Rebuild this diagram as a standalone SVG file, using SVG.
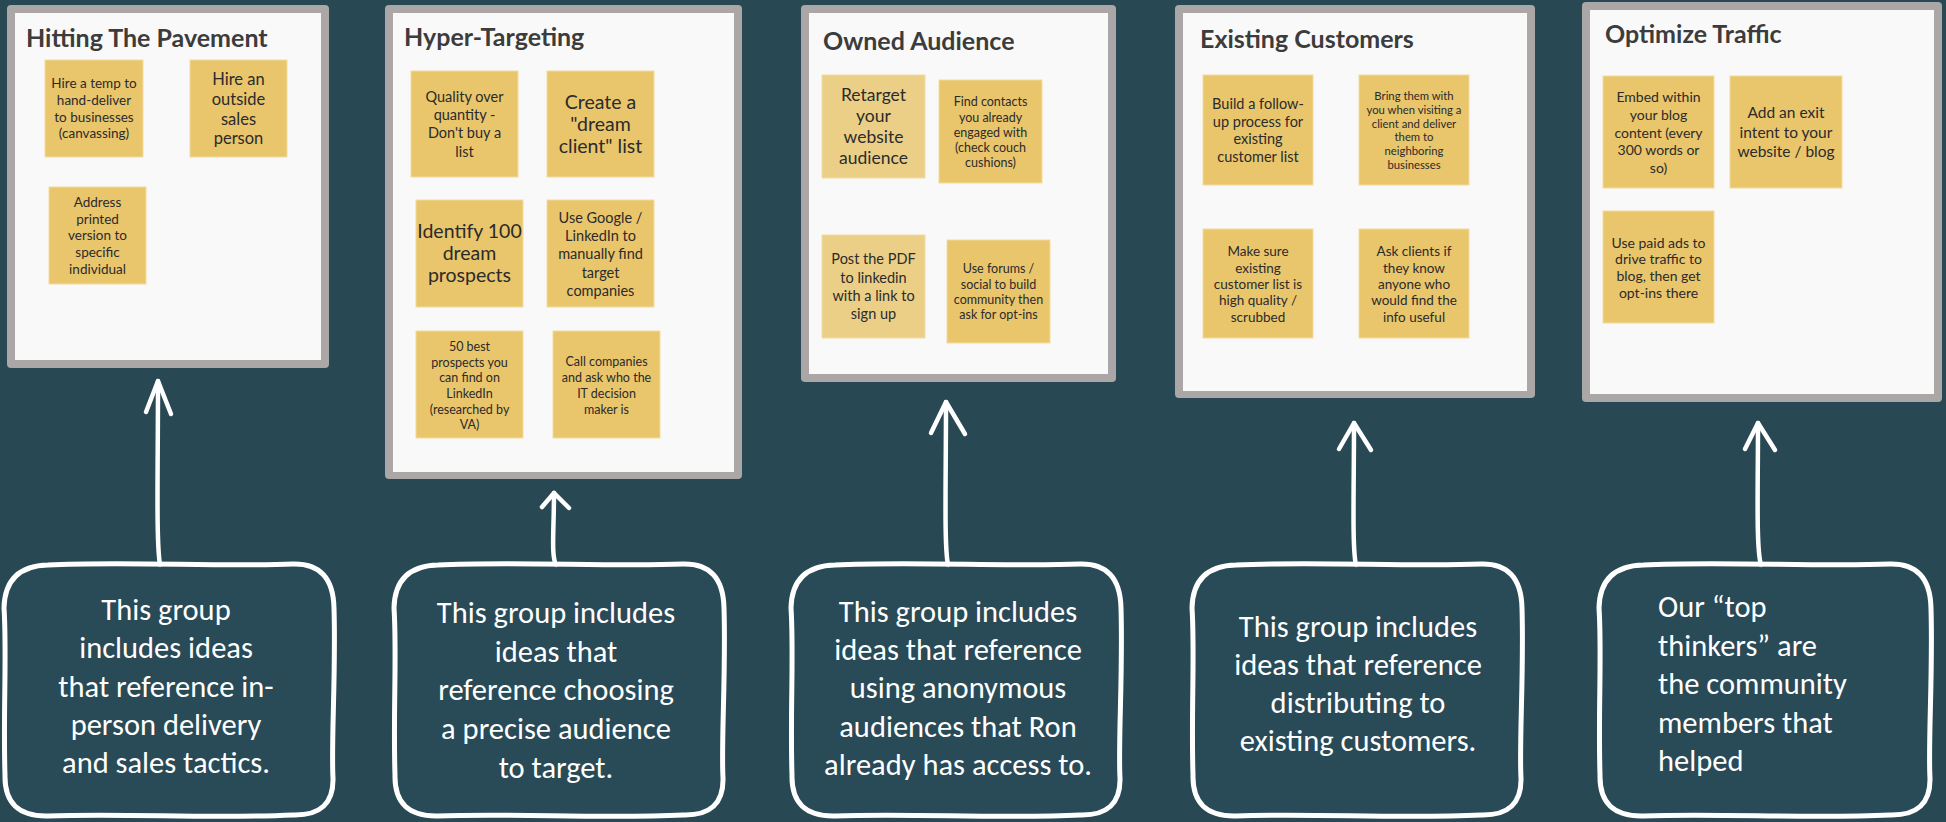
<svg xmlns="http://www.w3.org/2000/svg" xmlns:xlink="http://www.w3.org/1999/xlink" width="1946" height="822" viewBox="0 0 1946 822">
<style>
.frame{fill:#aba7a6;}
.inner{fill:#f9f9f9;}
.title{font-family:Lato,"Liberation Sans",sans-serif;font-weight:700;font-size:25px;fill:#3c3c3c;}
.sticky{fill:#e9c56b;stroke:#f3dca0;stroke-width:1;}
.sticky.light{fill:#eccf87;}
.st{font-family:Lato,"Liberation Sans",sans-serif;fill:#2b2b2b;text-anchor:middle;}
.co{fill:#2a4c59;fill-opacity:0.55;stroke:#ffffff;stroke-width:5;stroke-linejoin:round;}
.ct{font-family:Calibri,Carlito,Lato,"Liberation Sans",sans-serif;font-size:30.5px;fill:#ffffff;text-anchor:middle;}
.arr{fill:none;stroke:#ffffff;stroke-width:4.5;stroke-linecap:round;stroke-linejoin:round;}
</style>
<defs>
<path id="callout" d="M 45,2 C 120,-2 220,4 290,1 Q 330,0 331,45 C 333,110 328,180 330,215 Q 331,253 290,252 C 210,256 120,250 45,253 Q 1,254 2,212 C 0,150 4,90 1,45 Q 2,3 45,2 Z"/>
</defs>
<rect width="1946" height="822" fill="#284854"/>

<!-- Panel 1 -->
<g id="panel-hitting">
<rect class="frame" x="7" y="5" width="322" height="363" rx="4"/>
<rect class="inner" x="15" y="13" width="306" height="347"/>
<text class="title" x="26" y="47">Hitting The Pavement</text>
<rect class="sticky" x="45" y="60" width="98" height="97"/>
<text class="st" font-size="13.5"><tspan x="94" y="88">Hire a temp to</tspan><tspan x="94" y="105">hand-deliver</tspan><tspan x="94" y="122">to businesses</tspan><tspan x="94" y="138">(canvassing)</tspan></text>
<rect class="sticky" x="190" y="60" width="97" height="97"/>
<text class="st" font-size="16.5"><tspan x="238.5" y="85">Hire an</tspan><tspan x="238.5" y="105">outside</tspan><tspan x="238.5" y="125">sales</tspan><tspan x="238.5" y="144">person</tspan></text>
<rect class="sticky" x="49" y="187" width="97" height="97"/>
<text class="st" font-size="13.5"><tspan x="97.5" y="207">Address</tspan><tspan x="97.5" y="224">printed</tspan><tspan x="97.5" y="240">version to</tspan><tspan x="97.5" y="257">specific</tspan><tspan x="97.5" y="274">individual</tspan></text>
</g>

<!-- Panel 2 -->
<g id="panel-hyper">
<rect class="frame" x="385" y="5" width="357" height="474" rx="4"/>
<rect class="inner" x="393" y="13" width="341" height="459"/>
<text class="title" x="404" y="46" font-size="26.5">Hyper-Targeting</text>
<rect class="sticky" x="411" y="71" width="107" height="106"/>
<text class="st" font-size="14.5"><tspan x="464.5" y="102">Quality over</tspan><tspan x="464.5" y="120">quantity -</tspan><tspan x="464.5" y="138">Don't buy a</tspan><tspan x="464.5" y="157">list</tspan></text>
<rect class="sticky" x="547" y="71" width="107" height="106"/>
<text class="st" font-size="19.5"><tspan x="600.5" y="109">Create a</tspan><tspan x="600.5" y="131">"dream</tspan><tspan x="600.5" y="153">client" list</tspan></text>
<rect class="sticky" x="416" y="200" width="107" height="107"/>
<text class="st" font-size="19.5"><tspan x="469.5" y="238">Identify 100</tspan><tspan x="469.5" y="260">dream</tspan><tspan x="469.5" y="282">prospects</tspan></text>
<rect class="sticky" x="547" y="200" width="107" height="107"/>
<text class="st" font-size="14.5"><tspan x="600.5" y="223">Use Google /</tspan><tspan x="600.5" y="241">LinkedIn to</tspan><tspan x="600.5" y="259">manually find</tspan><tspan x="600.5" y="278">target</tspan><tspan x="600.5" y="296">companies</tspan></text>
<rect class="sticky" x="416" y="331" width="107" height="107"/>
<text class="st" font-size="12.5"><tspan x="469.5" y="351">50 best</tspan><tspan x="469.5" y="367">prospects you</tspan><tspan x="469.5" y="382">can find on</tspan><tspan x="469.5" y="398">LinkedIn</tspan><tspan x="469.5" y="414">(researched by</tspan><tspan x="469.5" y="429">VA)</tspan></text>
<rect class="sticky" x="553" y="331" width="107" height="107"/>
<text class="st" font-size="12.5"><tspan x="606.5" y="366">Call companies</tspan><tspan x="606.5" y="382">and ask who the</tspan><tspan x="606.5" y="398">IT decision</tspan><tspan x="606.5" y="414">maker is</tspan></text>
</g>

<!-- Panel 3 -->
<g id="panel-owned">
<rect class="frame" x="801" y="5" width="315" height="377" rx="4"/>
<rect class="inner" x="809" y="13" width="299" height="361"/>
<text class="title" x="823" y="50">Owned Audience</text>
<rect class="sticky light" x="822" y="75" width="103" height="103"/>
<text class="st" font-size="17.5"><tspan x="873.5" y="101">Retarget</tspan><tspan x="873.5" y="122">your</tspan><tspan x="873.5" y="143">website</tspan><tspan x="873.5" y="164">audience</tspan></text>
<rect class="sticky" x="939" y="80" width="103" height="103"/>
<text class="st" font-size="12.5"><tspan x="990.5" y="106">Find contacts</tspan><tspan x="990.5" y="122">you already</tspan><tspan x="990.5" y="137">engaged with</tspan><tspan x="990.5" y="152">(check couch</tspan><tspan x="990.5" y="167">cushions)</tspan></text>
<rect class="sticky light" x="822" y="235" width="103" height="103"/>
<text class="st" font-size="14.5"><tspan x="873.5" y="264">Post the PDF</tspan><tspan x="873.5" y="283">to linkedin</tspan><tspan x="873.5" y="301">with a link to</tspan><tspan x="873.5" y="319">sign up</tspan></text>
<rect class="sticky" x="947" y="240" width="103" height="103"/>
<text class="st" font-size="12.5"><tspan x="998.5" y="273">Use forums /</tspan><tspan x="998.5" y="289">social to build</tspan><tspan x="998.5" y="304">community then</tspan><tspan x="998.5" y="319">ask for opt-ins</tspan></text>
</g>

<!-- Panel 4 -->
<g id="panel-existing">
<rect class="frame" x="1175" y="5" width="360" height="393" rx="4"/>
<rect class="inner" x="1183" y="13" width="344" height="378"/>
<text class="title" x="1200" y="48" font-size="26">Existing Customers</text>
<rect class="sticky" x="1203" y="75" width="110" height="110"/>
<text class="st" font-size="14.5"><tspan x="1258" y="109">Build a follow-</tspan><tspan x="1258" y="127">up process for</tspan><tspan x="1258" y="144">existing</tspan><tspan x="1258" y="162">customer list</tspan></text>
<rect class="sticky" x="1359" y="75" width="110" height="110"/>
<text class="st" font-size="11.3"><tspan x="1414" y="100">Bring them with</tspan><tspan x="1414" y="114">you when visiting a</tspan><tspan x="1414" y="128">client and deliver</tspan><tspan x="1414" y="141">them to</tspan><tspan x="1414" y="155">neighboring</tspan><tspan x="1414" y="169">businesses</tspan></text>
<rect class="sticky" x="1203" y="229" width="110" height="109"/>
<text class="st" font-size="13.5"><tspan x="1258" y="256">Make sure</tspan><tspan x="1258" y="273">existing</tspan><tspan x="1258" y="289">customer list is</tspan><tspan x="1258" y="305">high quality /</tspan><tspan x="1258" y="322">scrubbed</tspan></text>
<rect class="sticky" x="1359" y="229" width="110" height="109"/>
<text class="st" font-size="13.5"><tspan x="1414" y="256">Ask clients if</tspan><tspan x="1414" y="273">they know</tspan><tspan x="1414" y="289">anyone who</tspan><tspan x="1414" y="305">would find the</tspan><tspan x="1414" y="322">info useful</tspan></text>
</g>

<!-- Panel 5 -->
<g id="panel-optimize">
<rect class="frame" x="1582" y="2" width="360" height="400" rx="4"/>
<rect class="inner" x="1590" y="10" width="344" height="384"/>
<text class="title" x="1605" y="43" font-size="26">Optimize Traffic</text>
<rect class="sticky" x="1603" y="76" width="111" height="112"/>
<text class="st" font-size="14"><tspan x="1658.5" y="102">Embed within</tspan><tspan x="1658.5" y="120">your blog</tspan><tspan x="1658.5" y="138">content (every</tspan><tspan x="1658.5" y="155">300 words or</tspan><tspan x="1658.5" y="173">so)</tspan></text>
<rect class="sticky" x="1730" y="76" width="112" height="112"/>
<text class="st" font-size="15.5"><tspan x="1786" y="118">Add an exit</tspan><tspan x="1786" y="138">intent to your</tspan><tspan x="1786" y="157">website / blog</tspan></text>
<rect class="sticky" x="1603" y="211" width="111" height="112"/>
<text class="st" font-size="14"><tspan x="1658.5" y="248">Use paid ads to</tspan><tspan x="1658.5" y="264">drive traffic to</tspan><tspan x="1658.5" y="281">blog, then get</tspan><tspan x="1658.5" y="298">opt-ins there</tspan></text>
</g>

<!-- Connectors -->
<g id="connectors">
<path class="arr" d="M 160,565 C 156,540 158,470 158,381"/>
<path class="arr" d="M 146,412 L 158,381 L 171,414"/>
<path class="arr" d="M 556,565 C 551,555 554,530 554,493"/>
<path class="arr" d="M 542,507 L 554,493 L 569,508"/>
<path class="arr" d="M 948,565 C 944,545 946,480 946,402"/>
<path class="arr" d="M 931,433 L 946,402 L 965,434"/>
<path class="arr" d="M 1356,565 C 1352,548 1354,490 1354,423"/>
<path class="arr" d="M 1339,449 L 1354,423 L 1371,450"/>
<path class="arr" d="M 1761,565 C 1756,548 1758,490 1758,423"/>
<path class="arr" d="M 1745,449 L 1758,423 L 1775,450"/>
</g>

<!-- Callouts -->
<g id="callout-1">
<use href="#callout" class="co" transform="translate(3,563)"/>
<text class="ct"><tspan x="166" y="620">This group</tspan><tspan x="166" y="658">includes ideas</tspan><tspan x="166" y="697">that reference in-</tspan><tspan x="166" y="735">person delivery</tspan><tspan x="166" y="773">and sales tactics.</tspan></text>
</g>
<g id="callout-2">
<use href="#callout" class="co" transform="translate(393,563)"/>
<text class="ct"><tspan x="556" y="623">This group includes</tspan><tspan x="556" y="662">ideas that</tspan><tspan x="556" y="700">reference choosing</tspan><tspan x="556" y="739">a precise audience</tspan><tspan x="556" y="778">to target.</tspan></text>
</g>
<g id="callout-3">
<use href="#callout" class="co" transform="translate(790,563)"/>
<text class="ct"><tspan x="958" y="622">This group includes</tspan><tspan x="958" y="660">ideas that reference</tspan><tspan x="958" y="698">using anonymous</tspan><tspan x="958" y="737">audiences that Ron</tspan><tspan x="958" y="775">already has access to.</tspan></text>
</g>
<g id="callout-4">
<use href="#callout" class="co" transform="translate(1191,563)"/>
<text class="ct"><tspan x="1358" y="637">This group includes</tspan><tspan x="1358" y="675">ideas that reference</tspan><tspan x="1358" y="713">distributing to</tspan><tspan x="1358" y="751">existing customers.</tspan></text>
</g>
<g id="callout-5">
<use href="#callout" class="co" transform="translate(1598,563) scale(1.006,1)"/>
<text class="ct" style="text-anchor:start"><tspan x="1658" y="617">Our “top</tspan><tspan x="1658" y="656">thinkers” are</tspan><tspan x="1658" y="694">the community</tspan><tspan x="1658" y="733">members that</tspan><tspan x="1658" y="771">helped</tspan></text>
</g>
</svg>
